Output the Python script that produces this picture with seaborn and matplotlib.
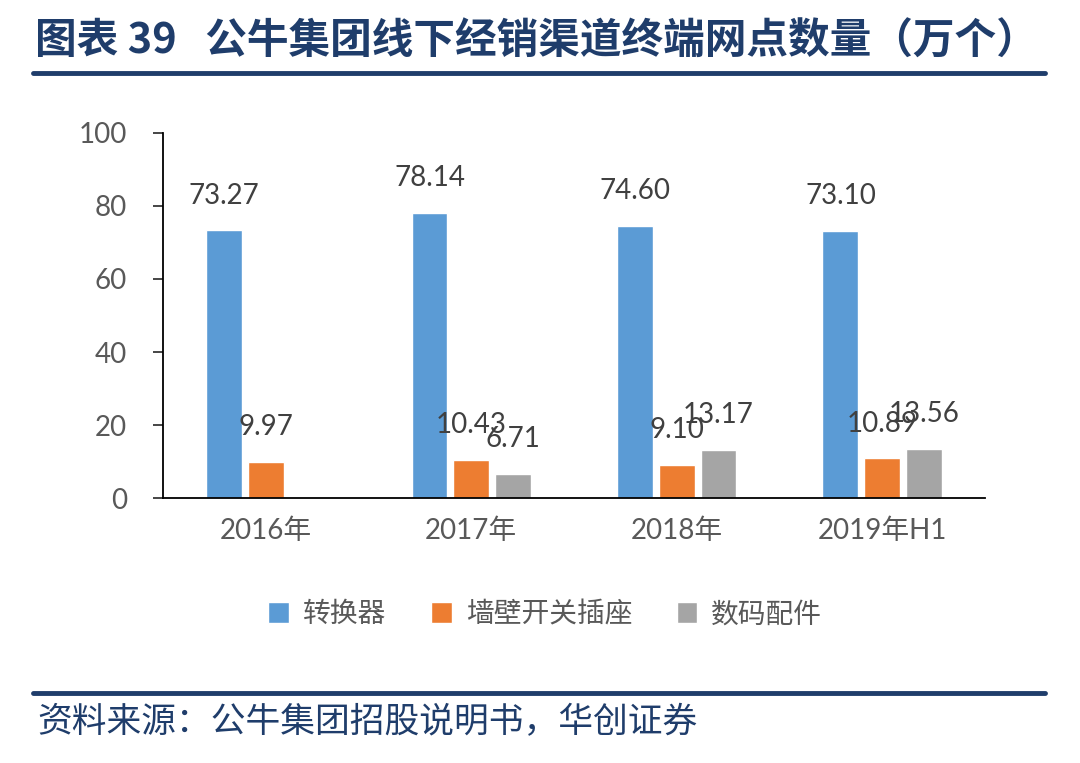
import pandas as pd
import numpy as np
import seaborn as sns
import matplotlib.pyplot as plt
from matplotlib.patches import Patch

# data
years = ["2016年", "2017年", "2018年", "2019年H1"]
series = ["转换器", "墙壁开关插座", "数码配件"]
converter = [73.27, 78.14, 74.60, 73.10]
wall_switch = [9.97, 10.43, 9.10, 10.89]
digital = [np.nan, 6.71, 13.17, 13.56]
colors = ["#5B9BD5", "#ED7D31", "#A5A5A5"]

title = "图表 39   公牛集团线下经销渠道终端网点数量（万个）"
source = "资料来源：公牛集团招股说明书，华创证券"
navy = "#1F3D6B"

df = pd.DataFrame({"year": years * 3,
                   "series": np.repeat(series, len(years)),
                   "value": converter + wall_switch + digital})

sns.set_style("ticks")
plt.rcParams["font.family"] = ["Lato", "Noto Sans CJK SC"]

fig = plt.figure(figsize=(10.8, 7.63), dpi=100)
ax = fig.add_axes([0.151, 0.347, 0.761, 0.479])

sns.barplot(data=df, x="year", y="value", hue="series", order=years,
            hue_order=series, palette=colors, saturation=1,
            width=0.61, gap=0.14, ax=ax, legend=False)

# value labels above each bar
for cont in ax.containers:
    for bar in cont:
        h = bar.get_height()
        if np.isnan(h):
            continue
        ax.annotate(f"{h:.2f}", (bar.get_x() + bar.get_width() / 2, h),
                    xytext=(0, 25), textcoords="offset points",
                    ha="center", va="center", fontsize=20, color="#404040")

ax.set_ylim(0, 100)
ax.set_yticks(range(0, 101, 20))
ax.set_xlim(-0.5, 3.5)
ax.set_xlabel("")
ax.set_ylabel("")
ax.tick_params(axis="y", labelsize=20, labelcolor="#595959", length=7,
               width=1.2, pad=19)
ax.tick_params(axis="x", labelsize=20, labelcolor="#595959", length=0, pad=14)
sns.despine(ax=ax)
ax.spines["left"].set_color("black")
ax.spines["bottom"].set_color("black")
ax.spines["left"].set_linewidth(1.3)
ax.spines["bottom"].set_linewidth(1.3)

handles = [Patch(facecolor=c, label=s) for c, s in zip(colors, series)]
fig.legend(handles=handles, loc="center", bbox_to_anchor=(0.505, 0.195),
           ncol=3, frameon=False, fontsize=20, labelcolor="#595959",
           handlelength=0.75, handleheight=0.75, handletextpad=0.5,
           columnspacing=1.6)

# header and footer
fig.text(0.032, 0.945, title, fontsize=30, fontweight="bold", color=navy,
         va="center", ha="left", family=["Noto Sans CJK SC"])
fig.add_artist(plt.Line2D([0.031, 0.968], [0.904, 0.904], color=navy, lw=3.5))
fig.add_artist(plt.Line2D([0.031, 0.968], [0.092, 0.092], color=navy, lw=3.5))
fig.text(0.035, 0.053, source, fontsize=25, color=navy, va="center", ha="left",
         family=["Noto Sans CJK SC"])

fig.savefig("out.png", dpi=100, facecolor="white")
